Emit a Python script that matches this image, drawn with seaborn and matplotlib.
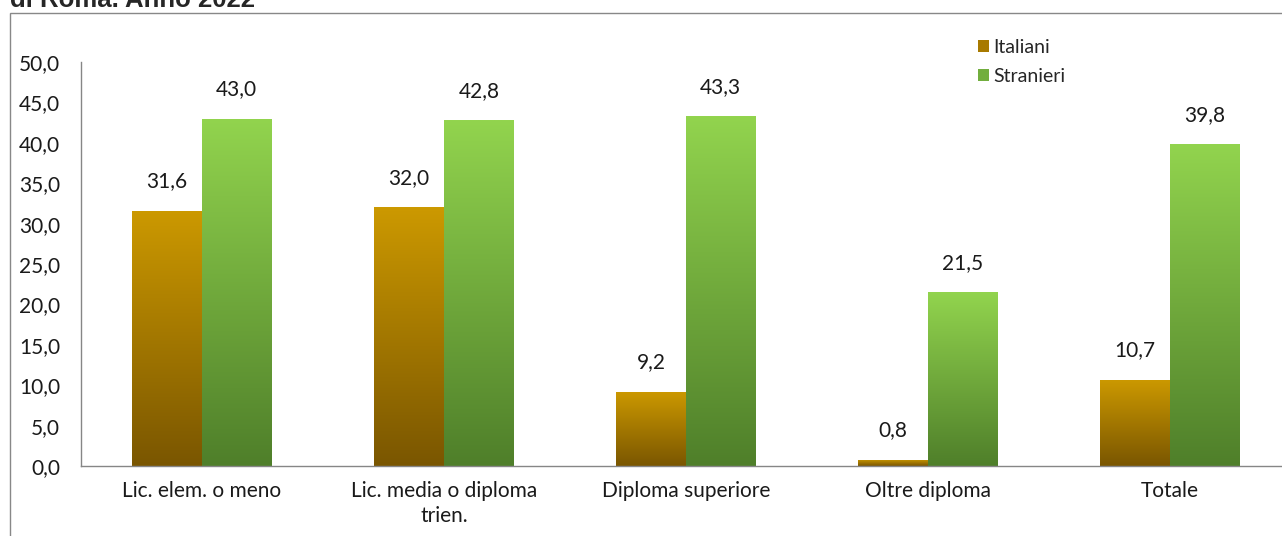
import numpy as np
import pandas as pd
import seaborn as sns
import matplotlib.pyplot as plt
from matplotlib.colors import LinearSegmentedColormap
from matplotlib.patches import Patch, Rectangle
from matplotlib.ticker import FixedLocator

# values
categories = ['Lic. elem. o meno', 'Lic. media o diploma\ntrien.', 'Diploma superiore',
              'Oltre diploma', 'Totale']
italiani = [31.6, 32.0, 9.2, 0.8, 10.7]
stranieri = [43.0, 42.8, 43.3, 21.5, 39.8]
series = ['Italiani', 'Stranieri']
y_ticks = [0, 5, 10, 15, 20, 25, 30, 35, 40, 45, 50]

df = pd.DataFrame({
    'categoria': categories * 2,
    'valore': italiani + stranieri,
    'serie': ['Italiani'] * len(categories) + ['Stranieri'] * len(categories),
})

# gradient colours (top, bottom) per series
grad_colors = {'Italiani': ('#CC9900', '#7A5600'), 'Stranieri': ('#92D44E', '#4F7F2A')}

sns.set_style('white')
plt.rcParams['font.family'] = ['Lato', 'DejaVu Sans']

fig = plt.figure(figsize=(12.82, 5.36), dpi=100)
ax = fig.add_axes([81 / 1282, 70 / 536, 1210 / 1282, 404 / 536])

sns.barplot(data=df, x='categoria', y='valore', hue='serie', order=categories,
            hue_order=series, width=0.575, palette=[grad_colors[s][0] for s in series],
            ax=ax, legend=False, edgecolor='none')

grad = np.linspace(0, 1, 256).reshape(-1, 1)
for cont, name in zip(ax.containers, series):
    top, bot = grad_colors[name]
    cmap = LinearSegmentedColormap.from_list(name, [bot, top])
    for p in cont:
        x, y, w, h = p.get_x(), p.get_y(), p.get_width(), p.get_height()
        im = ax.imshow(grad, extent=[x, x + w, y, y + h], origin='lower',
                       aspect='auto', cmap=cmap, zorder=2)
        im.set_clip_path(p)
        p.set_facecolor('none')
    for p, v in zip(cont, cont.datavalues):
        ax.annotate(f'{v:.1f}'.replace('.', ','), (p.get_x() + p.get_width() / 2, v),
                    xytext=(0, 21), textcoords='offset points', ha='center', va='center',
                    fontsize=15, color='#1a1a1a')

ax.set_xlim(-0.5, len(categories) - 0.5)
ax.set_ylim(0, 50)
ax.set_xlabel('')
ax.set_ylabel('')

ax.set_yticks(y_ticks)
ax.set_yticklabels([f'{t:.1f}'.replace('.', ',') for t in y_ticks], fontsize=15, color='#1a1a1a')
ax.tick_params(axis='y', which='major', length=5, width=1, color='#868686', pad=10)
ax.set_xticks(range(len(categories)))
ax.set_xticklabels(categories, fontsize=15, color='#1a1a1a', linespacing=1.3)
ax.tick_params(axis='x', which='major', length=0, pad=11)
ax.xaxis.set_minor_locator(FixedLocator(np.arange(-0.5, len(categories), 1)))
ax.tick_params(axis='x', which='minor', length=5, width=1, color='#868686')

sns.despine(ax=ax, top=True, right=True)
for side in ('left', 'bottom'):
    ax.spines[side].set_color('#868686')
    ax.spines[side].set_linewidth(1)

handles = [Patch(facecolor='#A87A00', edgecolor='none'),
           Patch(facecolor='#72AE3E', edgecolor='none')]
fig.legend(handles, series, loc='upper left', bbox_to_anchor=(978 / 1282, 1 - 39 / 536),
           frameon=False, fontsize=14, handlelength=0.55, handleheight=0.55,
           handletextpad=0.25, labelspacing=0.6, borderpad=0, borderaxespad=0)

# outer chart frame (cropped on right and bottom)
fig.add_artist(Rectangle((10 / 1282, -0.1), 1.2, 1.1 - 12.5 / 536, transform=fig.transFigure,
                         fill=False, edgecolor='#888888', linewidth=1, clip_on=False))

# title, cut off at top
fig.text(10 / 1282, 1 - 7 / 536, 'di Roma. Anno 2022', fontsize=18.5, fontweight='bold',
         family='Liberation Sans', ha='left', va='baseline')

fig.savefig('out.png', dpi=100)
